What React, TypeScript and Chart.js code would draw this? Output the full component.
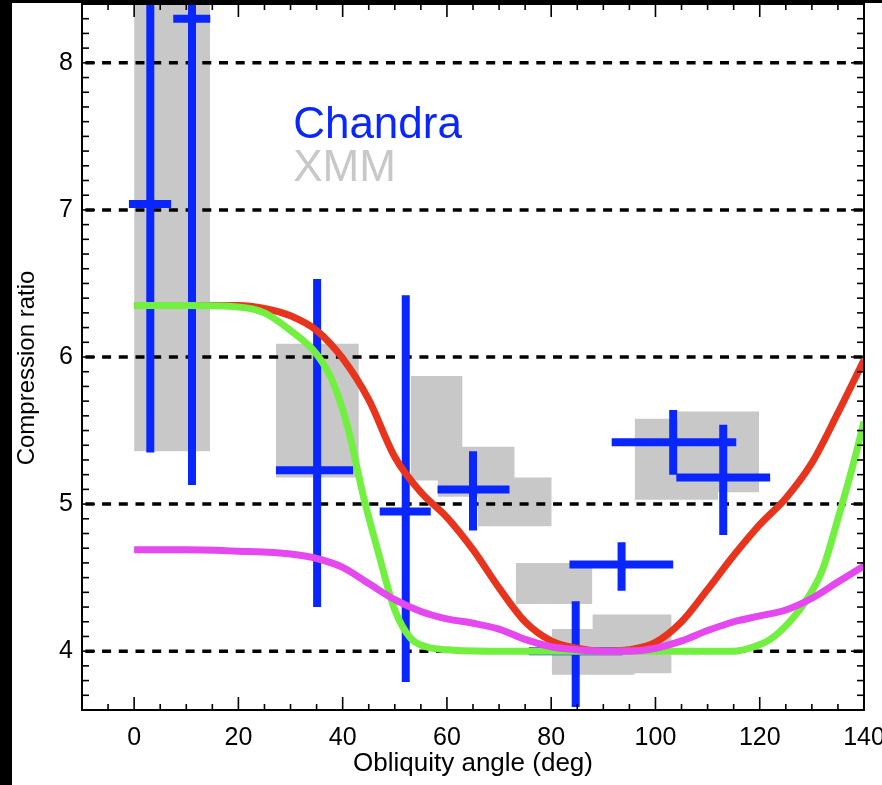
import React, { useEffect, useRef } from "react";
import { Chart, registerables } from "chart.js";

Chart.register(...registerables);

const FONT = '"Liberation Sans", Arial, Helvetica, sans-serif';
const BLUE = "#0a26ff";
const GRAY = "rgb(200,200,200)";
const RED = "#e8341c";
const GREEN = "#72f040";
const MAGENTA = "#e448ee";

// Axes
const xTickLabels = [0, 20, 40, 60, 80, 100, 120, 140];
const yTickLabels = [4, 5, 6, 7, 8];
const xMin = -10;
const xMax = 140;
const yMin = 3.6;
const yMax = 8.4;
const yTitle = "Compression ratio";

// XMM boxes (grey rectangles)
const xmmXLo = [0, 27.2, 53.1, 58.2, 65.9, 73.2, 80.1, 87.9, 96.0, 104.2];
const xmmXHi = [14.6, 43.1, 63.0, 73.0, 80.1, 87.9, 96.0, 103.1, 112.0, 119.9];
const xmmYLo = [5.36, 5.18, 5.16, 5.05, 4.85, 4.32, 3.84, 3.85, 5.03, 5.08];
const xmmYHi = [9.0, 6.09, 5.87, 5.39, 5.18, 4.6, 4.15, 4.25, 5.58, 5.63];

// Chandra crosses (error bars)
const chandraX = [3.1, 11.1, 35.1, 52.1, 65.0, 84.7, 93.5, 103.4, 113.0];
const chandraXLo = [-1.0, 7.5, 27.2, 47.1, 58.2, 75.7, 83.5, 91.6, 104.0];
const chandraXHi = [7.1, 14.6, 42.0, 56.9, 72.0, 93.7, 103.4, 115.5, 122.0];
const chandraY = [7.04, 8.3, 5.23, 4.95, 5.1, 4.0, 4.59, 5.42, 5.18];
const chandraYLo = [5.35, 5.13, 4.3, 3.79, 4.82, 3.62, 4.41, 5.2, 4.79];
const chandraYHi = [9.0, 9.0, 6.53, 6.42, 5.36, 4.34, 4.74, 5.64, 5.54];

// Model curves
const redX = [0, 10, 20, 25, 30, 35, 40, 45, 50, 55, 60, 65, 70, 75, 80, 85, 90, 95, 100, 105, 110, 115, 120, 125, 130, 135, 140];
const redY = [6.35, 6.35, 6.35, 6.33, 6.28, 6.18, 5.99, 5.71, 5.32, 5.08, 4.91, 4.69, 4.43, 4.2, 4.07, 4.02, 4.0, 4.01, 4.06, 4.2, 4.42, 4.65, 4.86, 5.04, 5.28, 5.62, 5.98];
const greenX = [0, 10, 20, 25, 30, 35, 38, 41, 44, 47, 50, 53, 56, 60, 70, 80, 90, 100, 110, 115, 118, 122, 126, 129, 132, 135, 138, 140];
const greenY = [6.35, 6.35, 6.34, 6.3, 6.18, 6.02, 5.84, 5.52, 5.05, 4.65, 4.28, 4.09, 4.03, 4.01, 4.0, 4.0, 4.0, 4.0, 4.0, 4.0, 4.02, 4.08, 4.21, 4.35, 4.55, 4.9, 5.28, 5.56];
const magX = [0, 10, 20, 30, 35, 40, 45, 50, 55, 60, 65, 70, 75, 80, 85, 90, 95, 100, 105, 110, 115, 120, 125, 130, 135, 140];
const magY = [4.69, 4.69, 4.68, 4.66, 4.63, 4.57, 4.46, 4.35, 4.27, 4.22, 4.19, 4.15, 4.08, 4.03, 4.01, 4.0, 4.0, 4.02, 4.07, 4.14, 4.2, 4.24, 4.28, 4.36, 4.47, 4.58];

const pts = (xs: number[], ys: number[]) => xs.map((x, i) => ({ x, y: ys[i] }));

const framePlugin = {
  id: "frame",
  beforeDraw(chart: any) {
    const { ctx, width, height } = chart;
    ctx.save();
    ctx.fillStyle = "#fff";
    ctx.fillRect(0, 0, width, height);
    ctx.fillStyle = "#000";
    ctx.fillRect(0, 0, 12, height);
    ctx.fillRect(0, 0, width, 3);
    ctx.restore();
  },
  beforeDatasetDraw(chart: any, args: any) {
    if (chart.data.datasets[args.index].label !== "Chandra") return;
    const { ctx, chartArea } = chart;
    const ys = chart.scales.y;
    ctx.save();
    ctx.strokeStyle = "#000";
    ctx.lineWidth = 3.5;
    ctx.setLineDash([9, 7.7]);
    ctx.lineDashOffset = 13.3;
    yTickLabels.forEach((v) => {
      const py = ys.getPixelForValue(v);
      ctx.beginPath();
      ctx.moveTo(chartArea.left, py);
      ctx.lineTo(chartArea.right, py);
      ctx.stroke();
    });
    ctx.restore();
  },
  afterDraw(chart: any) {
    const { ctx, chartArea } = chart;
    const { left, right, top, bottom } = chartArea;
    const xs = chart.scales.x;
    const ys = chart.scales.y;
    ctx.save();
    ctx.strokeStyle = "#000";
    ctx.lineWidth = 1.6;
    const line = (a: number, b: number, c: number, d: number) => {
      ctx.beginPath();
      ctx.moveTo(a, b);
      ctx.lineTo(c, d);
      ctx.stroke();
    };
    for (let v = xMin; v <= xMax; v += 5) {
      const px = xs.getPixelForValue(v);
      const len = xTickLabels.includes(v) ? 13 : 6;
      line(px, bottom, px, bottom - len);
      line(px, top, px, top + len);
    }
    for (let k = Math.round(yMin * 10); k <= Math.round(yMax * 10); k++) {
      const py = ys.getPixelForValue(k / 10);
      const len = k % 10 === 0 ? 13 : 7;
      line(left, py, left + len, py);
      line(right, py, right - len, py);
    }
    ctx.lineWidth = 2;
    ctx.strokeRect(left, top, right - left, bottom - top);

    ctx.font = `44px ${FONT}`;
    ctx.textAlign = "left";
    ctx.textBaseline = "alphabetic";
    ctx.fillStyle = BLUE;
    ctx.fillText("Chandra", xs.getPixelForValue(30.5), ys.getPixelForValue(7.49));
    ctx.fillStyle = GRAY;
    ctx.fillText("XMM", xs.getPixelForValue(30.5), ys.getPixelForValue(7.2));

    // y-axis title
    ctx.save();
    ctx.translate(34, (top + bottom) / 2 + 11);
    ctx.rotate(-Math.PI / 2);
    ctx.font = `24px ${FONT}`;
    ctx.fillStyle = "#000";
    ctx.textAlign = "center";
    ctx.textBaseline = "alphabetic";
    ctx.fillText(yTitle, 0, 0);
    ctx.restore();

    ctx.restore();
  },
};

export default function App() {
  const canvasRef = useRef<HTMLCanvasElement | null>(null);

  useEffect(() => {
    document.body.style.margin = "0";
    const canvas = canvasRef.current;
    if (!canvas) return;

    const boxSets = xmmXLo.map((x0, i) => ({
      label: "XMM",
      data: [
        { x: x0, y: xmmYHi[i] },
        { x: xmmXHi[i], y: xmmYHi[i] },
      ],
      borderWidth: 0,
      borderColor: "rgba(0,0,0,0)",
      backgroundColor: GRAY,
      pointRadius: 0,
      fill: { value: xmmYLo[i] },
      order: 5,
    }));

    const chandraData: any[] = [];
    chandraX.forEach((xc, i) => {
      chandraData.push(
        { x: chandraXLo[i], y: chandraY[i] },
        { x: chandraXHi[i], y: chandraY[i] },
        { x: xc, y: null },
        { x: xc, y: chandraYLo[i] },
        { x: xc, y: chandraYHi[i] },
        { x: xc, y: null }
      );
    });

    const curve = (label: string, data: any[], color: string, order: number) => ({
      label,
      data,
      borderColor: color,
      backgroundColor: color,
      borderWidth: 7,
      pointRadius: 0,
      fill: false,
      cubicInterpolationMode: "monotone" as const,
      order,
    });

    const chart = new Chart(canvas, {
      type: "line",
      data: {
        datasets: [
          ...boxSets,
          {
            label: "Chandra",
            data: chandraData,
            borderColor: BLUE,
            backgroundColor: BLUE,
            borderWidth: 8,
            borderCapStyle: "butt",
            pointRadius: 0,
            fill: false,
            spanGaps: false,
            clip: 0,
            order: 4,
          } as any,
          curve("red", pts(redX, redY), RED, 3),
          curve("green", pts(greenX, greenY), GREEN, 2),
          curve("magenta", pts(magX, magY), MAGENTA, 1),
        ],
      },
      options: {
        responsive: false,
        animation: false,
        devicePixelRatio: 1,
        layout: { padding: { left: 12, top: 4, right: 18, bottom: 0 } },
        plugins: {
          legend: { display: false },
          tooltip: { enabled: false },
        },
        scales: {
          x: {
            type: "linear",
            min: xMin,
            max: xMax,
            afterBuildTicks: (s: any) => {
              s.ticks = xTickLabels.map((v) => ({ value: v }));
            },
            afterFit: (s: any) => {
              s.height = 75;
              s.paddingLeft = 0;
              s.paddingRight = 0;
            },
            grid: { display: false, drawTicks: false },
            border: { display: false },
            ticks: {
              color: "#000",
              font: { family: FONT, size: 25 },
              padding: 13,
              maxRotation: 0,
              autoSkip: false,
            },
            title: {
              display: true,
              text: "Obliquity angle (deg)",
              color: "#000",
              font: { family: FONT, size: 26 },
              padding: { top: 0, bottom: 6 },
            },
          },
          y: {
            type: "linear",
            min: yMin,
            max: yMax,
            afterBuildTicks: (s: any) => {
              s.ticks = yTickLabels.map((v) => ({ value: v }));
            },
            afterFit: (s: any) => {
              s.width = 70;
              s.paddingTop = 0;
              s.paddingBottom = 0;
            },
            grid: { display: false, drawTicks: false },
            border: { display: false },
            ticks: {
              color: "#000",
              font: { family: FONT, size: 25 },
              padding: 9,
            },
            title: { display: false },
          },
        },
      },
      plugins: [framePlugin as any],
    });

    return () => chart.destroy();
  }, []);

  return (
    <div style={{ position: "absolute", left: 0, top: 0, width: 882, height: 785 }}>
      <canvas ref={canvasRef} width={882} height={785} style={{ display: "block" }} />
    </div>
  );
}
